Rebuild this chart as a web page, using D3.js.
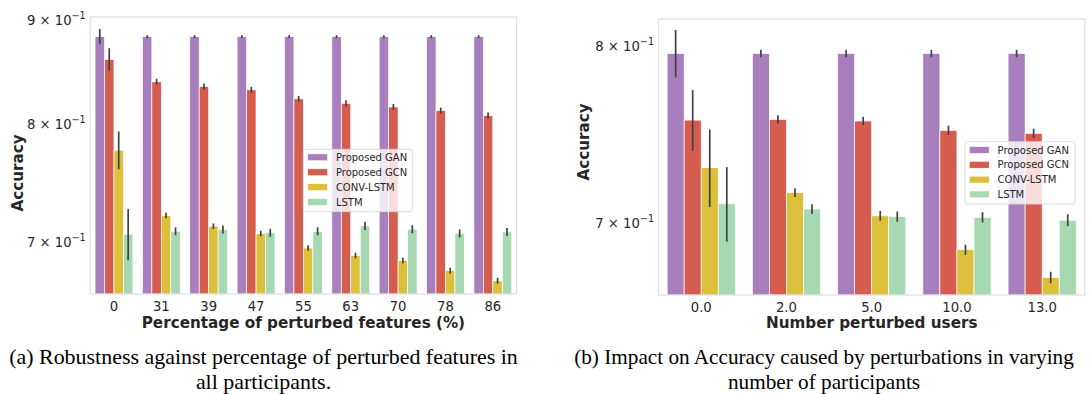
<!DOCTYPE html>
<html><head><meta charset="utf-8">
<script src="https://cdn.jsdelivr.net/npm/d3@7"></script>
<style>body{margin:0;background:#fff}svg{display:block}</style>
</head><body>
<svg id="c" width="1091" height="394"></svg>
<script>
// ---------- data ----------
const seriesNames = ["Proposed GAN", "Proposed GCN", "CONV-LSTM", "LSTM"];
const colors = ["#a87fbc", "#d45d4f", "#dcc03c", "#a6d9b1"];

// panel (a)
const catsA = ["0", "31", "39", "47", "55", "63", "70", "78", "86"];
const ganA  = [0.8835, 0.8835, 0.8835, 0.8835, 0.8835, 0.8835, 0.8835, 0.8835, 0.8835];
const gcnA  = [0.861, 0.8394, 0.835, 0.8318, 0.8233, 0.8192, 0.8158, 0.8124, 0.8078];
const convA = [0.7768, 0.7213, 0.7126, 0.7067, 0.6952, 0.6893, 0.6854, 0.6776, 0.6699];
const lstmA = [0.7061, 0.7085, 0.7099, 0.7074, 0.7085, 0.7129, 0.7102, 0.7068, 0.708];
const ganErrA  = [0.0076, 0.0015, 0.0015, 0.0015, 0.0015, 0.0015, 0.0015, 0.0015, 0.0015];
const gcnErrA  = [0.011, 0.0028, 0.0028, 0.0028, 0.0028, 0.0028, 0.0028, 0.0028, 0.0028];
const convErrA = [0.0166, 0.0022, 0.0022, 0.0022, 0.0022, 0.0022, 0.0022, 0.0022, 0.0022];
const lstmErrA = [0.0205, 0.0032, 0.0032, 0.0032, 0.0032, 0.0034, 0.0032, 0.0032, 0.0032];
const ticksA = [0.7, 0.8, 0.9];
const tickLabelsA = [["7", "−1"], ["8", "−1"], ["9", "−1"]];

// panel (b)
const catsB = ["0.0", "2.0", "5.0", "10.0", "13.0"];
const ganB  = [0.7954, 0.7954, 0.7954, 0.7954, 0.7954];
const gcnB  = [0.7565, 0.7569, 0.756, 0.7507, 0.749];
const convB = [0.7299, 0.7163, 0.7039, 0.6862, 0.672];
const lstmB = [0.7103, 0.7075, 0.7035, 0.7031, 0.7016];
const ganErrB  = [0.0142, 0.0022, 0.0022, 0.0022, 0.0022];
const gcnErrB  = [0.0173, 0.0024, 0.0024, 0.0026, 0.0026];
const convErrB = [0.0213, 0.0024, 0.0026, 0.0026, 0.0029];
const lstmErrB = [0.0199, 0.0026, 0.0027, 0.0027, 0.0031];
const ticksB = [0.7, 0.8];
const tickLabelsB = [["7", "−1"], ["8", "−1"]];

const xLabelA = "Percentage of perturbed features (%)";
const xLabelB = "Number perturbed users";
const yLabel = "Accuracy";
const captionA = ["(a) Robustness against percentage of perturbed features in", "all participants."];
const captionB = ["(b) Impact on Accuracy caused by perturbations in varying", "number of participants"];

// ---------- drawing ----------
const svg = d3.select("#c");
const txt = "#262626";
const sans = "'DejaVu Sans', sans-serif";

function panel(cfg) {
  const g = svg.append("g");
  const x = d3.scaleBand().domain(cfg.cats).range([cfg.left, cfg.right]).padding(0);
  const inner = x.bandwidth() * 0.8;
  const xs = d3.scaleBand().domain(seriesNames).range([0, inner]);
  const y = d3.scaleLog().domain(cfg.ydomain).range([cfg.bottom, cfg.top]);

  const rows = [];
  cfg.series.forEach((vals, si) => {
    vals.forEach((v, ci) => rows.push({s: seriesNames[si], si, c: cfg.cats[ci], v, e: cfg.errs[si][ci]}));
  });

  // bars
  g.selectAll("rect.bar").data(rows).join("rect")
    .attr("x", d => x(d.c) + (x.bandwidth() - inner) / 2 + xs(d.s))
    .attr("width", xs.bandwidth())
    .attr("y", d => y(d.v))
    .attr("height", d => cfg.bottom - y(d.v))
    .attr("fill", d => colors[d.si])
    .attr("stroke", "#ffffff").attr("stroke-width", 0.7);

  // error bars
  g.selectAll("line.err").data(rows).join("line")
    .attr("x1", d => x(d.c) + (x.bandwidth() - inner) / 2 + xs(d.s) + xs.bandwidth() / 2)
    .attr("x2", d => x(d.c) + (x.bandwidth() - inner) / 2 + xs(d.s) + xs.bandwidth() / 2)
    .attr("y1", d => y(d.v - d.e)).attr("y2", d => y(d.v + d.e))
    .attr("stroke", "#424242").attr("stroke-width", 1.7);

  // frame
  g.append("rect").attr("x", cfg.left).attr("y", cfg.top)
    .attr("width", cfg.right - cfg.left).attr("height", cfg.bottom - cfg.top)
    .attr("fill", "none").attr("stroke", "#dedede").attr("stroke-width", 1.2);

  // x axis (labels only)
  const xAxis = d3.axisBottom(x).tickSize(0).tickPadding(0);
  const ax = g.append("g").attr("transform", `translate(0,${cfg.bottom})`).call(xAxis);
  ax.select(".domain").remove();
  ax.selectAll("text").attr("font-family", sans).attr("font-size", 13.2).attr("fill", txt)
    .attr("dy", null).attr("y", 16.8);

  // y axis labels (log, mathtext-like)
  const yt = g.append("g");
  cfg.ticks.forEach((t, i) => {
    const tEl = yt.append("text").attr("x", cfg.left - 4.6).attr("y", y(t) + 4.7)
      .attr("text-anchor", "end").attr("font-family", sans).attr("font-size", 13.2).attr("fill", txt);
    tEl.append("tspan").text(cfg.tickLabels[i][0] + " × 10");
    tEl.append("tspan").attr("dy", -5.6).attr("font-size", 9.6).text(cfg.tickLabels[i][1]);
  });

  // axis titles
  g.append("text").attr("x", (cfg.left + cfg.right) / 2).attr("y", 328.3)
    .attr("text-anchor", "middle").attr("font-family", sans).attr("font-weight", "bold")
    .attr("font-size", 15.2).attr("fill", txt).text(cfg.xLabel);
  g.append("text").attr("transform", `translate(${cfg.yLabelX},${cfg.yLabelY}) rotate(-90)`)
    .attr("text-anchor", "middle").attr("font-family", sans).attr("font-weight", "bold")
    .attr("font-size", 15.2).attr("fill", txt).text(yLabel);

  // legend
  const L = cfg.legend;
  const lg = g.append("g");
  lg.append("rect").attr("x", L.x).attr("y", L.y).attr("width", L.w).attr("height", L.h)
    .attr("rx", 2.5).attr("fill", "#ffffff").attr("fill-opacity", 0.8)
    .attr("stroke", "#d6d6d6").attr("stroke-width", 0.9);
  seriesNames.forEach((s, i) => {
    const cy = L.row0 + i * L.step;
    lg.append("rect").attr("x", L.x + 4.4).attr("y", cy - 3.4).attr("width", 19.8).attr("height", 6.8)
      .attr("fill", colors[i]).attr("stroke", "#ffffff").attr("stroke-width", 0.5);
    lg.append("text").attr("x", L.x + 32.6).attr("y", cy + 3.6)
      .attr("font-family", sans).attr("font-size", 10).attr("fill", txt).text(s);
  });
}

panel({
  cats: catsA, series: [ganA, gcnA, convA, lstmA], errs: [ganErrA, gcnErrA, convErrA, lstmErrA],
  left: 90.3, right: 516.5, top: 17, bottom: 294, ydomain: [0.6599, 0.9034],
  ticks: ticksA, tickLabels: tickLabelsA, xLabel: xLabelA, yLabelX: 22.5, yLabelY: 173,
  legend: {x: 303.3, y: 149.3, w: 109, h: 62.4, row0: 157.3, step: 14.9}
});
panel({
  cats: catsB, series: [ganB, gcnB, convB, lstmB], errs: [ganErrB, gcnErrB, convErrB, lstmErrB],
  left: 658.6, right: 1084.8, top: 19, bottom: 295, ydomain: [0.6632, 0.8163],
  ticks: ticksB, tickLabels: tickLabelsB, xLabel: xLabelB, yLabelX: 589.3, yLabelY: 142,
  legend: {x: 965, y: 141.7, w: 110, h: 62.3, row0: 150, step: 14.8}
});

// captions
const serif = "'Liberation Serif', 'DejaVu Serif', serif";
function caption(lines, cx, targetW) {
  const t = svg.append("text").attr("font-family", serif).attr("font-size", 20).text(lines[0]);
  const w = t.node().getComputedTextLength();
  t.remove();
  const fs = 20 * targetW / w;
  lines.forEach((ln, i) => {
    svg.append("text").attr("x", cx).attr("y", 363.5 + i * 25.3).attr("text-anchor", "middle")
      .attr("font-family", serif).attr("font-size", fs).attr("fill", "#000").text(ln);
  });
}
caption(captionA, 263.5, 509);
caption(captionB, 824, 500);
</script>
</body></html>
